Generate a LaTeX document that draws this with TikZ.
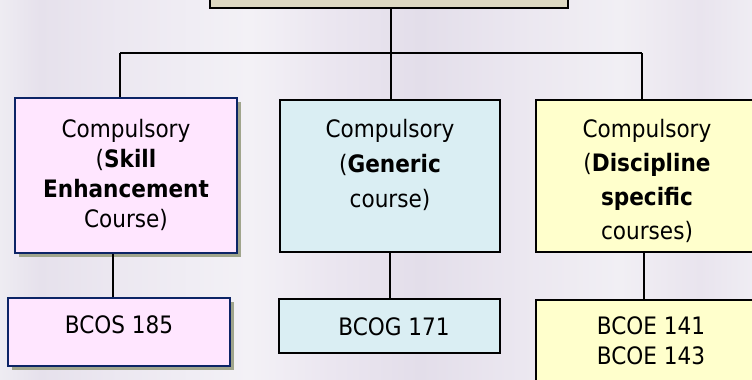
\documentclass[tikz,border=0pt]{standalone}
\usepackage{fontspec}
\setmainfont{DejaVu Sans Condensed}
\usetikzlibrary{shadows}
\definecolor{bgA}{HTML}{EEECF2}
\definecolor{bgB}{HTML}{E6E1EC}
\definecolor{bgC}{HTML}{ECE8F1}
\definecolor{bgD}{HTML}{F3F1F6}
\definecolor{bgE}{HTML}{EBE6F0}
\definecolor{bgF}{HTML}{E3DEEA}
\definecolor{bgG}{HTML}{EBE7F0}
\definecolor{bgH}{HTML}{F1EFF4}
\definecolor{bgI}{HTML}{E9E4EE}
\definecolor{bgJ}{HTML}{EFEDF3}
\definecolor{pinkfill}{HTML}{FFE6FF}
\definecolor{bluefill}{HTML}{DAEEF3}
\definecolor{yellowfill}{HTML}{FFFFCC}
\definecolor{tanfill}{HTML}{DDD8C2}
\definecolor{navy}{HTML}{0C2466}
\definecolor{shadowc}{HTML}{A0A58C}
\pgfdeclarehorizontalshading{bgshade}{100bp}{color(0bp)=(bgA); color(25bp)=(bgA); color(27.66bp)=(bgB); color(32.98bp)=(bgC); color(41.62bp)=(bgD); color(46.94bp)=(bgE); color(52.93bp)=(bgF); color(59.57bp)=(bgG); color(66.22bp)=(bgH); color(71.54bp)=(bgI); color(75bp)=(bgJ); color(100bp)=(bgJ)}
\tikzset{
  boxbase/.style={rectangle, inner sep=0pt, line width=1.5pt},
  pinkbox/.style={boxbase, draw=navy, line width=2pt, fill=pinkfill,
    drop shadow={shadow xshift=4pt, shadow yshift=-4pt, fill=shadowc, opacity=1}},
  bluebox/.style={boxbase, draw=black, fill=bluefill},
  yellowbox/.style={boxbase, draw=black, fill=yellowfill},
  topbox/.style={boxbase, draw=black, fill=tanfill,
    drop shadow={shadow xshift=1pt, shadow yshift=-1pt, fill=gray, opacity=0.6}},
  txt/.style={inner sep=0pt, align=center, text=black},
  conn/.style={draw=black, line width=1.5pt}
}
\begin{document}
\begin{tikzpicture}[x=1pt, y=-1pt]
\useasboundingbox (0,0) rectangle (752,380);
\clip (0,0) rectangle (752,380);
\fill[shading=bgshade] (0,0) rectangle (752,380);
% top box
\node[topbox, minimum width=358pt, minimum height=48pt] (top) at (389,-16) {};
% second row
\node[pinkbox, minimum width=222pt, minimum height=155pt] (s1) at (126,175.5) {};
\node[bluebox, minimum width=220pt, minimum height=152pt] (g1) at (390,176) {};
\node[yellowbox, minimum width=222pt, minimum height=152pt] (d1) at (647,176) {};
% third row
\node[pinkbox, minimum width=222pt, minimum height=68pt] (s2) at (119,332) {};
\node[bluebox, minimum width=221pt, minimum height=54pt] (g2) at (389.5,326) {};
\node[yellowbox, minimum width=222pt, minimum height=100pt] (d2) at (647,350) {};
% texts
\node[txt, font=\fontsize{24}{30}\selectfont] (s1t) at (126,174.5) {Compulsory\\(\textbf{Skill}\\\textbf{Enhancement}\\Course)};
\node[txt, font=\fontsize{24}{35}\selectfont] (g1t) at (390,164.5) {Compulsory\\(\textbf{Generic}\\course)};
\node[txt, font=\fontsize{24}{34}\selectfont] (d1t) at (647,180.5) {Compulsory\\(\textbf{Discipline}\\\textbf{specific}\\courses)};
\node[txt, font=\fontsize{24}{30}\selectfont, anchor=base] (s2t) at (119,333) {BCOS 185};
\node[txt, font=\fontsize{24}{30}\selectfont, anchor=base] (g2t) at (394,335) {BCOG 171};
\node[txt, font=\fontsize{24}{30}\selectfont] (d2t) at (651,341) {BCOE 141\\BCOE 143};
% connectors
\coordinate (busL) at (120,53);
\coordinate (busM) at (391,53);
\coordinate (busR) at (642,53);
\coordinate (cs) at (113,0);
\coordinate (cg) at (390,0);
\coordinate (cd) at (644,0);
\draw[conn] (top.south -| busM) -- (busM);
\draw[conn] (busL) -- (busR);
\draw[conn] (busL) -- (busL |- s1.north);
\draw[conn] (busM) -- (busM |- g1.north);
\draw[conn] (busR) -- (busR |- d1.north);
\draw[conn] (cs |- s1.south) -- (cs |- s2.north);
\draw[conn] (cg |- g1.south) -- (cg |- g2.north);
\draw[conn] (cd |- d1.south) -- (cd |- d2.north);
\end{tikzpicture}
\end{document}
